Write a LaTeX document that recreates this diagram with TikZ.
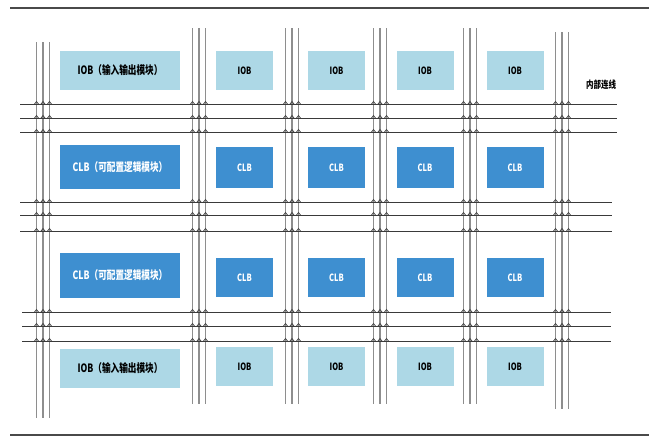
\documentclass[tikz,border=0pt]{standalone}
\usepackage{fontspec}
\usepackage{tikz}
\usetikzlibrary{positioning,calc}
\newfontfamily\cjk{Noto Sans CJK SC}[FakeStretch=0.75]
\definecolor{ioblight}{HTML}{ADD8E6}
\definecolor{clbdark}{HTML}{3E8FD0}
\definecolor{wiregray}{HTML}{8E8E8E}
\definecolor{busdark}{HTML}{3A3A3A}
\definecolor{framegray}{HTML}{4A4A4A}
\tikzset{
  iobbox/.style={fill=ioblight,minimum width=57pt,minimum height=39pt,inner sep=0pt,align=center,font=\cjk\bfseries\fontsize{10}{12}\selectfont,text=black},
  clbbox/.style={fill=clbdark,minimum width=57pt,minimum height=41pt,inner sep=0pt,align=center,font=\cjk\bfseries\fontsize{10}{12}\selectfont,text=white},
  widebox/.style={minimum width=120pt,font=\cjk\bfseries\fontsize{11.5}{13}\selectfont},
  vwire/.style={wiregray,line width=1.1pt},
  hwire/.style={busdark,line width=0.9pt},
  frameline/.style={framegray,line width=1.6pt},
  label/.style={font=\cjk\bfseries\fontsize{10}{12}\selectfont,text=black}
}

\begin{document}
\begin{tikzpicture}[x=1pt,y=-1pt]
  \useasboundingbox (0,0) rectangle (649,437);
  \draw[frameline] (10,8) -- (649,8);
  \draw[frameline] (10,435) -- (649,435);

  % vertical routing channels
  \foreach \cx/\top/\bot in {43/42/418,199/28/404,292/28/404,380/28/404,470/28/404,562/32/409}
    \foreach \dx in {-6.5,0,6.5}
      \draw[vwire] (\cx+\dx,\top) -- (\cx+\dx,\bot);

  % horizontal routing channels
  \foreach \hy/\xl/\xr in {104/20/617,118/20/617,132/20/617,202/20/612,215/20/612,231/20/612,312/22/611,326/22/611,341/22/611}{
    \draw[hwire] (\xl,\hy) -- (\xr,\hy);
    \foreach \cx in {43,199,292,380,470,562}
      \foreach \dx in {-6.5,0,6.5}
        \draw[busdark,line width=0.7pt] (\cx+\dx-2,\hy) -- (\cx+\dx,\hy-2.5) -- (\cx+\dx+2,\hy);
  }

  % IOB / CLB rows
  \node[iobbox,widebox] (iobtop) at (120,70.5) {IOB（输入输出模块）};
  \node[clbbox,widebox,minimum height=44pt] (clbone) at (120,167) {CLB（可配置逻辑模块）};
  \node[clbbox,widebox,minimum height=45pt] (clbtwo) at (120,275.5) {CLB（可配置逻辑模块）};
  \node[iobbox,widebox] (iobbot) at (120,368.5) {IOB（输入输出模块）};

  \foreach \cx [count=\i] in {244.5,336.5,425,515}{
    \node[iobbox] (iobt\i) at (\cx,70.5) {IOB};
    \node[clbbox] (clba\i) at (\cx,167.5) {CLB};
    \node[clbbox,minimum height=39pt] (clbb\i) at (\cx,277.5) {CLB};
    \node[iobbox] (iobb\i) at (\cx,366.5) {IOB};
  }

  \node[label] (wires) at (601,85) {内部连线};
\end{tikzpicture}
\end{document}
